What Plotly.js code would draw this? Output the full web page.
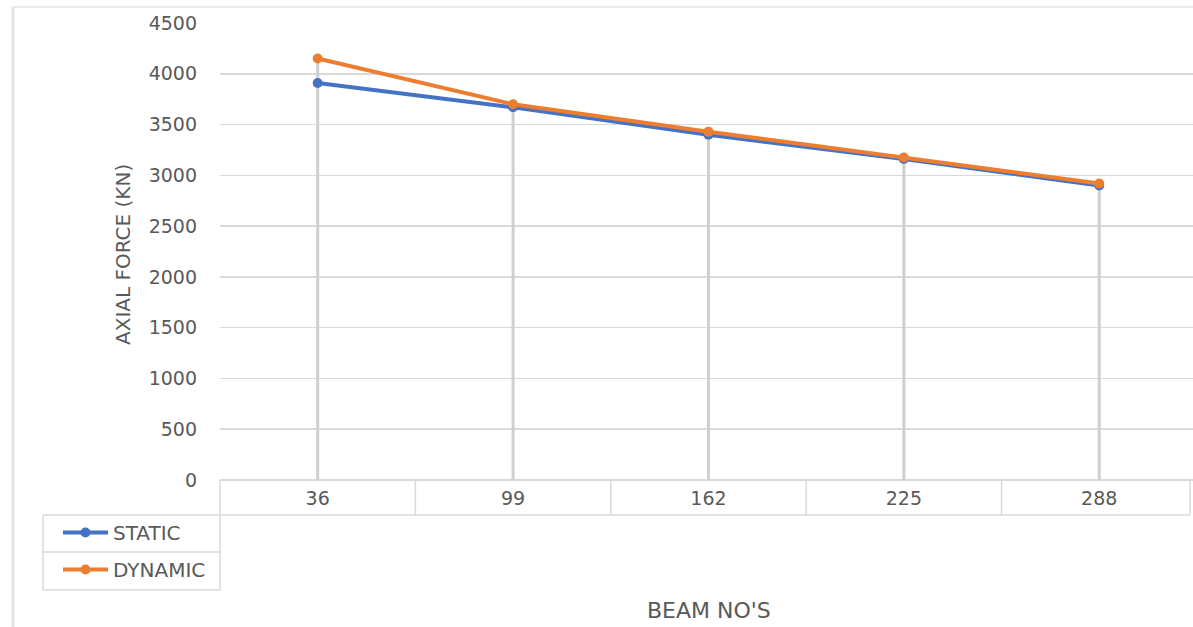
<!DOCTYPE html>
<html>
<head>
<meta charset="utf-8">
<script src="https://cdn.plot.ly/plotly-3.0.1.min.js"></script>
<style>
  html, body { margin: 0; padding: 0; background: #ffffff; }
  #chart { width: 1193px; height: 627px; }
</style>
</head>
<body>
<div id="chart"></div>
<script>
// Beam numbers along the span and the axial force in each (kN)
const beams = ['36', '99', '162', '225', '288'];
const staticForce = [3910, 3670, 3400, 3160, 2900];
const dynamicForce = [4150, 3700, 3430, 3175, 2920];
const yTicks = [0, 500, 1000, 1500, 2000, 2500, 3000, 3500, 4000, 4500];

const FONT = 'DejaVu Sans, sans-serif';
const TEXT = '#595959';
const GRID = '#d9d9d9';

// Drop lines: from the higher of the two series down to the axis
const dropX = [], dropY = [];
beams.forEach((b, i) => {
  dropX.push(b, b, null);
  dropY.push(0, Math.max(staticForce[i], dynamicForce[i]), null);
});

const traces = [
  {
    x: dropX, y: dropY, mode: 'lines', type: 'scatter',
    line: {color: '#cfcfcf', width: 3},
    hoverinfo: 'skip', showlegend: false
  },
  {
    x: beams, y: staticForce, name: 'STATIC', mode: 'lines+markers', type: 'scatter',
    line: {color: '#4472c4', width: 4},
    marker: {color: '#4472c4', size: 10, symbol: 'circle'},
    legendgroup: 'a'
  },
  {
    x: beams, y: dynamicForce, name: 'DYNAMIC', mode: 'lines+markers', type: 'scatter',
    line: {color: '#ed7d31', width: 4},
    marker: {color: '#ed7d31', size: 10, symbol: 'circle'},
    legendgroup: 'b'
  }
];

// Plot area runs from x=220 to the right edge, y=23 to y=480
const L = 220, T = 23, W = 1193 - 220, H = 480 - 23;
const px = v => (v - L) / W;          // pixel x -> paper x
const py = v => (480 - v) / H;        // pixel y -> paper y

const line = (x0, y0, x1, y1, c, w) => ({
  type: 'line', xref: 'paper', yref: 'paper',
  x0: px(x0), y0: py(y0), x1: px(x1), y1: py(y1),
  line: {color: c || GRID, width: w || 1.5}, layer: 'above'
});

const shapes = [
  // category row of the data table
  line(220, 515, 1190, 515),
  line(220, 480, 220, 590),
  line(1190, 480, 1190, 515),
  // legend cells
  line(43, 515, 220, 515),
  line(43, 552, 220, 552),
  line(43, 590, 220, 590),
  line(43, 515, 43, 590),
  // chart area border
  line(13, 7, 1193, 7, '#ebebeb', 2),
  line(13, 7, 13, 627, '#e3e3e3', 3)
];
// dividers between categories in the table row
beams.forEach((b, i) => {
  if (i === 0) return;
  shapes.push({
    type: 'line', xref: 'x', yref: 'paper',
    x0: i - 0.5, x1: i - 0.5, y0: py(480), y1: py(515),
    line: {color: GRID, width: 1.5}, layer: 'above'
  });
});

const layout = {
  width: 1193, height: 627,
  margin: {l: L, r: 0, t: T, b: 627 - 480},
  paper_bgcolor: '#ffffff', plot_bgcolor: '#ffffff',
  font: {family: FONT, size: 19, color: TEXT},
  showlegend: true,
  legend: {
    x: px(58), y: py(513), xanchor: 'left', yanchor: 'top',
    xref: 'paper', yref: 'paper',
    traceorder: 'grouped', tracegroupgap: 8,
    itemwidth: 45, bgcolor: 'rgba(0,0,0,0)', borderwidth: 0,
    font: {family: FONT, size: 20, color: TEXT}
  },
  xaxis: {
    type: 'category', range: [-0.5, 4.48],
    showgrid: false, zeroline: false, showline: false,
    ticks: '', ticklabelstandoff: 5,
    tickfont: {family: FONT, size: 19, color: TEXT},
    fixedrange: true
  },
  yaxis: {
    range: [0, 4500], tickvals: yTicks,
    showgrid: true, gridcolor: GRID, gridwidth: 1.5,
    zeroline: true, zerolinecolor: GRID, zerolinewidth: 1.5,
    showline: false, ticks: '', ticklabelstandoff: 22,
    tickfont: {family: FONT, size: 19, color: TEXT},
    fixedrange: true
  },
  annotations: [
    {
      text: 'AXIAL FORCE (KN)', textangle: -90, showarrow: false,
      xref: 'paper', yref: 'paper', x: px(123), y: py(255),
      xanchor: 'center', yanchor: 'middle',
      font: {family: FONT, size: 20, color: TEXT}
    },
    {
      text: "BEAM NO'S", showarrow: false,
      xref: 'paper', yref: 'paper', x: px(709), y: py(610),
      xanchor: 'center', yanchor: 'middle',
      font: {family: FONT, size: 22, color: TEXT}
    }
  ],
  shapes: shapes
};

Plotly.newPlot('chart', traces, layout, {displayModeBar: false, staticPlot: true});
</script>
</body>
</html>
